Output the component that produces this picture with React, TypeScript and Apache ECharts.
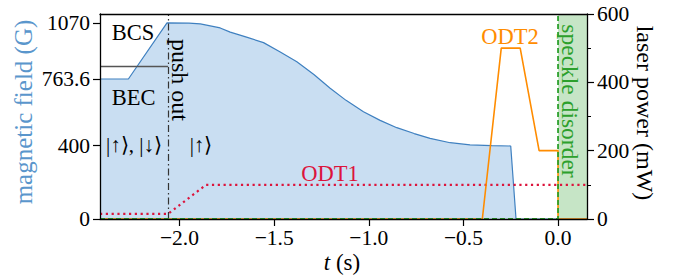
import React, { useEffect, useRef } from "react";
import * as echarts from "echarts";

const XMIN = -2.42;
const XMAX = 0.153;
const X_TICKS = [-2.0, -1.5, -1.0, -0.5, 0.0];
const B_TICKS = [0, 400, 763.6, 1070];
const B_MAX = 1118;
const P_MAX = 600;

// magnetic field (G) vs t (s)
const B_T = [-2.42, -2.27, -2.066, -1.95, -1.89, -1.785, -1.732, -1.65, -1.556, -1.47, -1.38, -1.29, -1.204, -1.12, -1.028, -0.94, -0.852, -0.76, -0.676, -0.57, -0.465, -0.35, -0.25, -0.222, 0.153];
const B_G = [763.6, 763.6, 1070, 1068, 1064, 1042, 1019, 993, 962, 912, 858, 788, 713, 647, 585, 538, 498, 466, 440, 416, 404, 400, 398, 0, 0];

// BCS/BEC boundary
const BOUND_T = [-2.42, -2.06];
const BOUND_G = [832, 832];
const PUSH_OUT_T = -2.06;

// laser powers (mW)
const ODT1_T = [-2.42, -2.06, -1.86, 0.153];
const ODT1_P = [15, 15, 100, 100];
const ODT2_T = [-2.42, -0.4, -0.3, -0.2, -0.1, 0.0, 0.0, 0.153];
const ODT2_P = [0, 0, 500, 500, 200, 200, 0, 0];
const SPECKLE_T = [-2.42, 0.0, 0.0];
const SPECKLE_P = [0, 0, 600];
const SPECKLE_START = 0.0;

const zip = (a: number[], b: number[]) => a.map((v, i) => [v, b[i]]);
const FONT = "'Liberation Serif', serif";
const fmtMinus = (v: number, d: number) => {
  const s = Math.abs(v).toFixed(d);
  return v < 0 ? "\u2212" + s : s;
};

export default function App() {
  const ref = useRef<HTMLDivElement>(null);
  useEffect(() => {
    if (!ref.current) return;
    const chart = echarts.init(ref.current, null, { renderer: "svg" });
    const txt = (x: number, y: number, text: string, color: string, size = 22, rotation = 0) => ({
      type: "text",
      x,
      y,
      rotation,
      z: 100,
      style: { text, fill: color, fontSize: size, fontFamily: FONT, align: "center", verticalAlign: "middle" },
    });
    chart.setOption({
      animation: false,
      grid: { left: 100, right: 86, top: 14, bottom: 57 },
      xAxis: [
        {
          type: "value",
          min: XMIN,
          max: XMAX,
          position: "bottom",
          z: 10,
          axisLine: { show: true, onZero: false, lineStyle: { color: "#000", width: 1.3 } },
          axisTick: { show: true, length: 7, customValues: X_TICKS, lineStyle: { color: "#000", width: 1.2 } },
          axisLabel: { customValues: X_TICKS, formatter: (v: number) => fmtMinus(v, 1), color: "#000", fontSize: 21.5, fontFamily: FONT, margin: 8 },
          splitLine: { show: false },
        },
        {
          type: "value",
          min: XMIN,
          max: XMAX,
          position: "top",
          z: 10,
          axisLine: { show: true, onZero: false, lineStyle: { color: "#000", width: 1.3 } },
          axisTick: { show: false },
          axisLabel: { show: false },
          splitLine: { show: false },
        },
      ],
      yAxis: [
        {
          type: "value",
          min: 0,
          max: B_MAX,
          position: "left",
          z: 10,
          axisLine: { show: true, onZero: false, lineStyle: { color: "#000", width: 1.3 } },
          axisTick: { show: true, length: 7, customValues: B_TICKS, lineStyle: { color: "#000", width: 1.2 } },
          axisLabel: { customValues: B_TICKS, formatter: (v: number) => String(v), color: "#000", fontSize: 21.5, fontFamily: FONT, margin: 10 },
          splitLine: { show: false },
        },
        {
          type: "value",
          min: 0,
          max: P_MAX,
          interval: 200,
          position: "right",
          z: 10,
          axisLine: { show: true, onZero: false, lineStyle: { color: "#000", width: 1.3 } },
          axisTick: { show: true, length: 7, lineStyle: { color: "#000", width: 1.2 } },
          minorTick: { show: true, splitNumber: 2, length: 4, lineStyle: { color: "#000", width: 1 } },
          axisLabel: { color: "#000", fontSize: 21.5, fontFamily: FONT, margin: 10 },
          splitLine: { show: false },
        },
      ],
      series: [
        {
          type: "line",
          yAxisIndex: 1,
          data: [],
          z: 0,
          markArea: {
            silent: true,
            itemStyle: { color: "rgba(44,160,44,0.27)" },
            data: [[{ xAxis: SPECKLE_START }, { xAxis: XMAX }]],
          },
        },
        {
          type: "line",
          yAxisIndex: 0,
          data: zip(B_T, B_G),
          symbol: "none",
          z: 1,
          lineStyle: { color: "#3f80c0", width: 1.2 },
          areaStyle: { color: "#c9def2", opacity: 1 },
        },
        {
          type: "line",
          yAxisIndex: 0,
          data: zip(BOUND_T, BOUND_G),
          symbol: "none",
          z: 3,
          lineStyle: { color: "#555", width: 1.6 },
          markLine: {
            silent: true,
            symbol: "none",
            label: { show: false },
            lineStyle: { color: "#333", width: 1.2, type: [7, 3, 1.5, 3] },
            data: [{ xAxis: PUSH_OUT_T }],
          },
        },
        {
          type: "line",
          yAxisIndex: 1,
          data: zip(ODT1_T, ODT1_P),
          symbol: "none",
          z: 4,
          lineStyle: { color: "#dc143c", width: 2.2, type: [2.2, 3.6] },
        },
        {
          type: "line",
          yAxisIndex: 1,
          data: zip(ODT2_T, ODT2_P),
          symbol: "none",
          z: 5,
          lineStyle: { color: "#ff8c00", width: 1.6 },
        },
        {
          type: "line",
          yAxisIndex: 1,
          data: zip(SPECKLE_T, SPECKLE_P),
          symbol: "none",
          z: 6,
          lineStyle: { color: "#2ca02c", width: 1.8, type: [5, 3] },
        },
      ],
      graphic: [
        txt(23, 112, "magnetic field (G)", "#5a96cc", 25, Math.PI / 2),
        txt(645, 113, "laser power (mW)", "#000", 24, -Math.PI / 2),
        {
          type: "text",
          x: 342,
          y: 262,
          z: 100,
          style: {
            text: "{i|t} (s)",
            align: "center",
            verticalAlign: "middle",
            fill: "#000",
            fontSize: 23,
            fontFamily: FONT,
            rich: { i: { fontStyle: "italic", fontFamily: FONT, fontSize: 23 } },
          },
        },
        txt(133, 32, "BCS", "#000", 22.5),
        txt(133.5, 97.5, "BEC", "#000", 22.5),
        txt(134, 145, "|↑⟩, |↓⟩", "#000", 21),
        txt(201, 145, "|↑⟩", "#000", 21),
        txt(180, 80, "push out", "#000", 24, -Math.PI / 2),
        txt(570, 101, "speckle disorder", "#2ca02c", 23.5, -Math.PI / 2),
        txt(510, 36.5, "ODT2", "#ff8c00", 22.5),
        txt(330, 173, "ODT1", "#dc143c", 22.5),
      ],
    });
    return () => chart.dispose();
  }, []);
  return <div ref={ref} style={{ position: "absolute", left: 0, top: 0, width: 673, height: 276 }} />;
}
